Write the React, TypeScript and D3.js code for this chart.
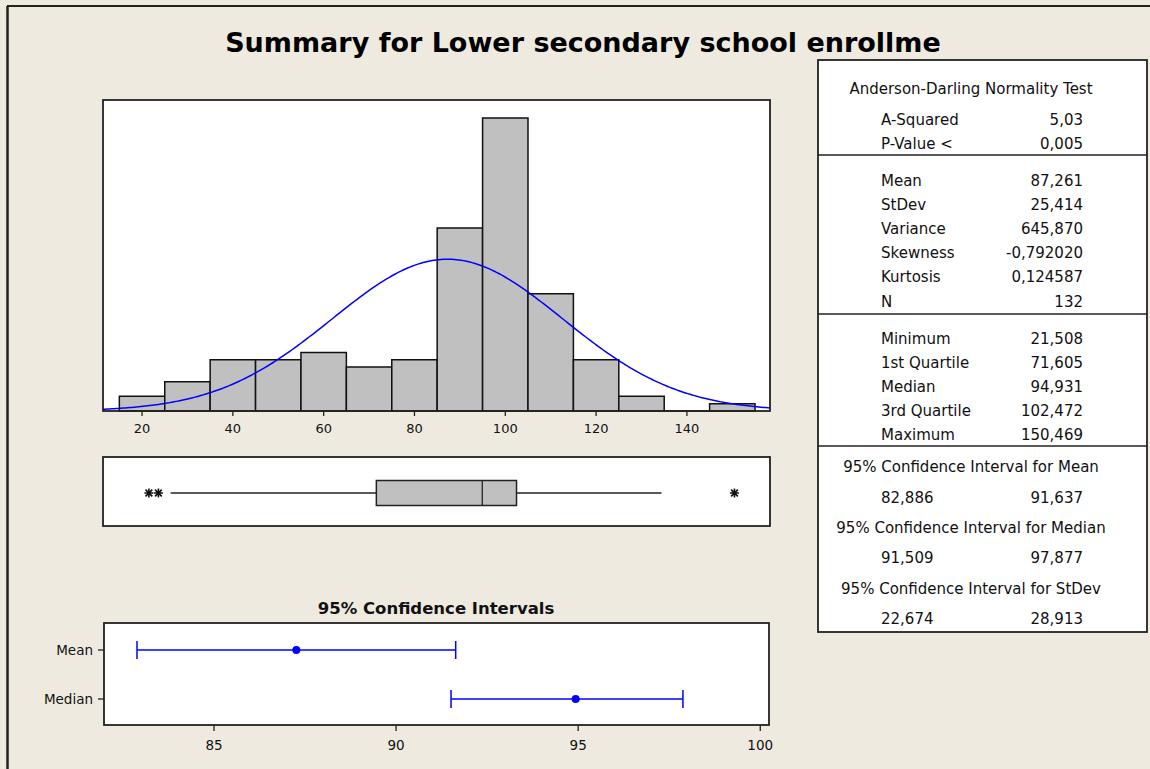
import React from "react";
import * as d3 from "d3";

// ---------- data ----------
const binCenters = [20, 30, 40, 50, 60, 70, 80, 90, 100, 110, 120, 130, 140, 150];
const binCounts = [2, 4, 7, 7, 8, 6, 7, 25, 40, 16, 7, 2, 0, 1];
const binWidth = 10;
const histTicks = [20, 40, 60, 80, 100, 120, 140];

const meanValue = 87.261;
const sdValue = 25.414;
const nValue = 132;

const boxQuartiles = [71.605, 94.931, 102.472];
const boxWhiskers = [26.3, 134.4];
const boxOutliers = [21.508, 23.6, 150.469];

const ciLabels = ["Mean", "Median"];
const ciCenters = [87.261, 94.931];
const ciLows = [82.886, 91.509];
const ciHighs = [91.637, 97.877];
const ciTicks = [85, 90, 95, 100];

const adLabels = ["A-Squared", "P-Value <"];
const adValues = ["5,03", "0,005"];
const descLabels = ["Mean", "StDev", "Variance", "Skewness", "Kurtosis", "N"];
const descValues = ["87,261", "25,414", "645,870", "-0,792020", "0,124587", "132"];
const quantLabels = ["Minimum", "1st Quartile", "Median", "3rd Quartile", "Maximum"];
const quantValues = ["21,508", "71,605", "94,931", "102,472", "150,469"];
const ciTitles = [
  "95% Confidence Interval for Mean",
  "95% Confidence Interval for Median",
  "95% Confidence Interval for StDev",
];
const ciLowTexts = ["82,886", "91,509", "22,674"];
const ciHighTexts = ["91,637", "97,877", "28,913"];

const titleText = "Summary for Lower secondary school enrollme";

// ---------- layout ----------
const W = 1150;
const H = 769;
const BG = "#EEEAE0";
const FONT = "'DejaVu Sans', Verdana, sans-serif";

const hist = { x0: 103, x1: 770, y0: 100, y1: 411 };
const boxP = { x0: 103, x1: 770, y0: 457, y1: 526 };
const ciP = { x0: 104, x1: 769, y0: 623, y1: 725 };
const stats = { x0: 818, x1: 1147, y0: 60, y1: 632 };

export default function App() {
  const x = d3.scaleLinear().domain([11.4, 158.3]).range([hist.x0, hist.x1]);
  const y = d3.scaleLinear().domain([0, 42.46]).range([hist.y1, hist.y0]);

  const pdf = (v: number) =>
    (nValue * binWidth) / (sdValue * Math.sqrt(2 * Math.PI)) *
    Math.exp(-0.5 * ((v - meanValue) / sdValue) ** 2);
  const curvePts = d3.range(0, 301).map((i) => {
    const v = 11.4 + (i / 300) * (158.3 - 11.4);
    return [v, pdf(v)] as [number, number];
  });
  const curve = d3
    .line<[number, number]>()
    .x((d) => x(d[0]))
    .y((d) => y(d[1]))(curvePts);

  const ciX = d3.scaleLinear().domain([81.98, 100.24]).range([ciP.x0, ciP.x1]);
  const ciY = d3.scalePoint<string>().domain(ciLabels).range([650, 699]);

  const boxMid = 493;
  const boxHalf = 12.5;

  const star = (cx: number, cy: number, r: number) =>
    `M${cx},${cy - r}V${cy + r}M${cx - r},${cy}H${cx + r}` +
    `M${cx - r * 0.75},${cy - r * 0.75}L${cx + r * 0.75},${cy + r * 0.75}` +
    `M${cx - r * 0.75},${cy + r * 0.75}L${cx + r * 0.75},${cy - r * 0.75}`;

  const labelX = 881;
  const valueX = 1083;
  const centerX = 971;
  const dy = 5.5;

  const adY = [119, 143];
  const descY = descLabels.map((_, i) => 180 + i * 24.2);
  const quantY = quantLabels.map((_, i) => 338 + i * 24.2);
  const ciHeadY = [466, 527, 588];
  const ciValY = [497, 557, 618];
  const dividers = [155, 314, 446];

  return (
    <svg
      width={W}
      height={H}
      style={{ position: "absolute", left: 0, top: 0, display: "block" }}
      fontFamily={FONT}
    >
      <rect x={0} y={0} width={W} height={H} fill={BG} />
      {/* outer frame */}
      <line x1={7} y1={6} x2={W} y2={6} stroke="#222" strokeWidth={2} />
      <line x1={7.5} y1={6} x2={7.5} y2={H} stroke="#222" strokeWidth={2.5} />

      {/* title */}
      <text x={583} y={52} textAnchor="middle" fontSize={27} fontWeight="bold" fill="#000">
        {titleText}
      </text>

      {/* ---------- histogram ---------- */}
      <defs>
        <clipPath id="histClip">
          <rect x={hist.x0} y={hist.y0} width={hist.x1 - hist.x0} height={hist.y1 - hist.y0} />
        </clipPath>
      </defs>
      <rect x={hist.x0} y={hist.y0} width={hist.x1 - hist.x0} height={hist.y1 - hist.y0} fill="#fff" />
      {binCenters.map((c, i) => {
        const xa = x(c - binWidth / 2);
        const xb = x(c + binWidth / 2);
        const yt = y(binCounts[i]);
        return (
          <path
            key={c}
            d={`M${xa},${hist.y1}V${yt}H${xb}V${hist.y1}Z`}
            fill="#C0C0C0"
            stroke="#111"
            strokeWidth={1.5}
          />
        );
      })}
      <path d={curve || ""} fill="none" stroke="#0000FF" strokeWidth={1.5} clipPath="url(#histClip)" />
      <rect
        x={hist.x0}
        y={hist.y0}
        width={hist.x1 - hist.x0}
        height={hist.y1 - hist.y0}
        fill="none"
        stroke="#222"
        strokeWidth={1.8}
      />
      {histTicks.map((t) => (
        <g key={t}>
          <line x1={x(t)} x2={x(t)} y1={hist.y1} y2={hist.y1 + 5} stroke="#222" strokeWidth={1.3} />
          <text x={x(t)} y={433} textAnchor="middle" fontSize={13} fill="#111">
            {t}
          </text>
        </g>
      ))}

      {/* ---------- boxplot ---------- */}
      <rect
        x={boxP.x0}
        y={boxP.y0}
        width={boxP.x1 - boxP.x0}
        height={boxP.y1 - boxP.y0}
        fill="#fff"
        stroke="#222"
        strokeWidth={1.8}
      />
      <line x1={x(boxWhiskers[0])} x2={x(boxQuartiles[0])} y1={boxMid} y2={boxMid} stroke="#222" strokeWidth={1.5} />
      <line x1={x(boxQuartiles[2])} x2={x(boxWhiskers[1])} y1={boxMid} y2={boxMid} stroke="#222" strokeWidth={1.5} />
      <rect
        x={x(boxQuartiles[0])}
        y={boxMid - boxHalf}
        width={x(boxQuartiles[2]) - x(boxQuartiles[0])}
        height={boxHalf * 2}
        fill="#C0C0C0"
        stroke="#222"
        strokeWidth={1.5}
      />
      <line
        x1={x(boxQuartiles[1])}
        x2={x(boxQuartiles[1])}
        y1={boxMid - boxHalf}
        y2={boxMid + boxHalf}
        stroke="#222"
        strokeWidth={1.3}
      />
      {boxOutliers.map((o, i) => (
        <path key={i} d={star(x(o), boxMid, 4.5)} stroke="#111" strokeWidth={1.6} fill="none" />
      ))}

      {/* ---------- CI plot ---------- */}
      <text x={436} y={614} textAnchor="middle" fontSize={16.5} fontWeight="bold" fill="#111">
        95% Confidence Intervals
      </text>
      <rect
        x={ciP.x0}
        y={ciP.y0}
        width={ciP.x1 - ciP.x0}
        height={ciP.y1 - ciP.y0}
        fill="#fff"
        stroke="#222"
        strokeWidth={1.8}
      />
      {ciLabels.map((lab, i) => {
        const yy = ciY(lab) as number;
        return (
          <g key={lab}>
            <line x1={ciP.x0 - 6} x2={ciP.x0} y1={yy} y2={yy} stroke="#222" strokeWidth={1.3} />
            <text x={93} y={yy + 5} textAnchor="end" fontSize={13.5} fill="#111">
              {lab}
            </text>
            <line x1={ciX(ciLows[i])} x2={ciX(ciHighs[i])} y1={yy} y2={yy} stroke="#0000FF" strokeWidth={1.5} />
            <line x1={ciX(ciLows[i])} x2={ciX(ciLows[i])} y1={yy - 9} y2={yy + 9} stroke="#0000FF" strokeWidth={1.5} />
            <line x1={ciX(ciHighs[i])} x2={ciX(ciHighs[i])} y1={yy - 9} y2={yy + 9} stroke="#0000FF" strokeWidth={1.5} />
            <circle cx={ciX(ciCenters[i])} cy={yy} r={4} fill="#0000FF" />
          </g>
        );
      })}
      {ciTicks.map((t) => (
        <g key={t}>
          <line x1={ciX(t)} x2={ciX(t)} y1={ciP.y1} y2={ciP.y1 + 6} stroke="#222" strokeWidth={1.3} />
          <text x={ciX(t)} y={750} textAnchor="middle" fontSize={13.5} fill="#111">
            {t}
          </text>
        </g>
      ))}

      {/* ---------- stats table ---------- */}
      <rect
        x={stats.x0}
        y={stats.y0}
        width={stats.x1 - stats.x0}
        height={stats.y1 - stats.y0}
        fill="#fff"
        stroke="#222"
        strokeWidth={1.8}
      />
      {dividers.map((d) => (
        <line key={d} x1={stats.x0} x2={stats.x1} y1={d} y2={d} stroke="#222" strokeWidth={1.5} />
      ))}
      <g fontSize={15} fill="#111">
        <text x={centerX} y={88 + dy} textAnchor="middle">
          Anderson-Darling Normality Test
        </text>
        {adLabels.map((l, i) => (
          <g key={l}>
            <text x={labelX} y={adY[i] + dy}>{l}</text>
            <text x={valueX} y={adY[i] + dy} textAnchor="end">{adValues[i]}</text>
          </g>
        ))}
        {descLabels.map((l, i) => (
          <g key={l}>
            <text x={labelX} y={descY[i] + dy}>{l}</text>
            <text x={valueX} y={descY[i] + dy} textAnchor="end">{descValues[i]}</text>
          </g>
        ))}
        {quantLabels.map((l, i) => (
          <g key={l}>
            <text x={labelX} y={quantY[i] + dy}>{l}</text>
            <text x={valueX} y={quantY[i] + dy} textAnchor="end">{quantValues[i]}</text>
          </g>
        ))}
        {ciTitles.map((t, i) => (
          <g key={t}>
            <text x={centerX} y={ciHeadY[i] + dy} textAnchor="middle">{t}</text>
            <text x={labelX} y={ciValY[i] + dy}>{ciLowTexts[i]}</text>
            <text x={valueX} y={ciValY[i] + dy} textAnchor="end">{ciHighTexts[i]}</text>
          </g>
        ))}
      </g>
    </svg>
  );
}
